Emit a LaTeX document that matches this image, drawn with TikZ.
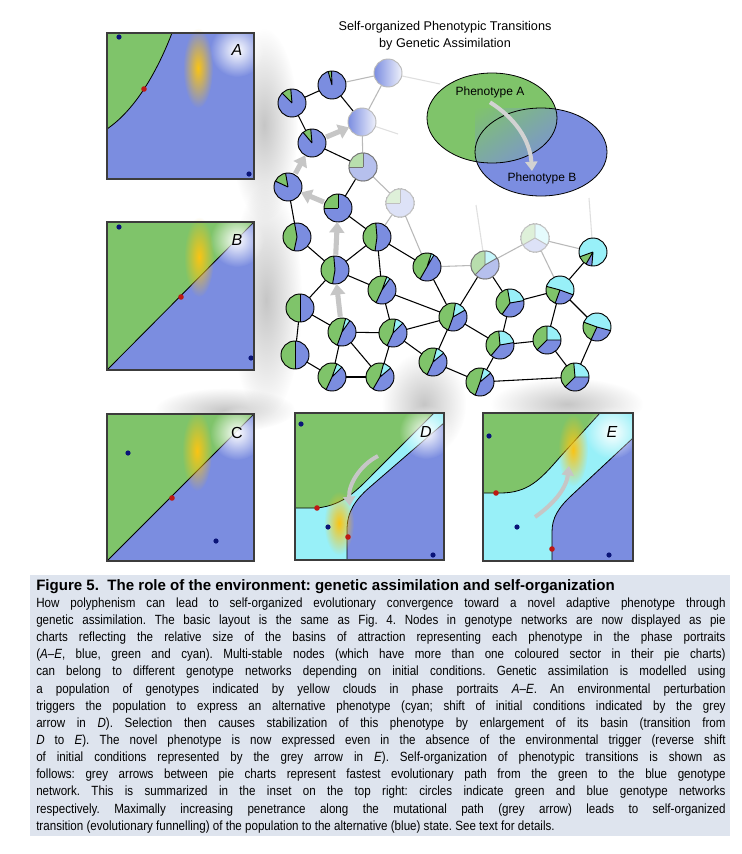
\documentclass[tikz,border=0pt]{standalone}
\usepackage{fontspec}
\setmainfont{Liberation Sans}
\newfontfamily\capfont[FakeStretch=0.87]{Liberation Sans}
\usetikzlibrary{arrows.meta,fadings,shadings,positioning}

\definecolor{greenB}{RGB}{127,196,106}
\definecolor{blueB}{RGB}{123,141,224}
\definecolor{cyanB}{RGB}{152,240,248}
\definecolor{dotblue}{RGB}{10,20,120}
\definecolor{dotred}{RGB}{190,25,20}
\definecolor{cloud}{RGB}{250,196,20}
\definecolor{capbg}{RGB}{222,228,238}
\definecolor{framegrey}{RGB}{60,60,60}

\tikzfading[name=softfade, inner color=transparent!0, outer color=transparent!100]

\tikzset{
  edge/.style={black, line width=0.8pt},
  greyedge/.style={gray!55, line width=0.8pt},
  paleedge/.style={gray!25, line width=0.8pt},
  pieline/.style={black, line width=0.7pt},
  pathArrow/.style={draw=gray!45, line width=3.8pt,
    -{Triangle[width=11pt,length=8pt]}, shorten <=11.5pt, shorten >=10.5pt},
  curveArrow/.style={draw=gray!45, line width=3pt, -{Triangle[width=9pt,length=7pt]}},
  frameline/.style={draw=framegrey, line width=1pt},
  basin/.style={black, line width=0.6pt},
  panellabel/.style={font=\fontsize{12}{12}\selectfont\itshape, inner sep=0pt},
  glow/.style={white, path fading=softfade},
  haze/.style={cloud, path fading=softfade},
  shadowblob/.style={gray!45, path fading=softfade},
}

% pie chart: name, cyan start, green start, blue start, white veil
\newcommand{\pie}[5]{%
  \begin{scope}[shift={(#1)}, x=0.75pt, y=0.75pt]
    \fill[cyanB] (0,0) -- (#2:14) arc[start angle=#2, end angle=#3, radius=14] -- cycle;
    \fill[greenB] (0,0) -- (#3:14) arc[start angle=#3, end angle=#4, radius=14] -- cycle;
    \fill[blueB] (0,0) -- (#4:14) arc[start angle=#4, end angle=#2+360, radius=14] -- cycle;
    \draw[pieline] (0,0) -- (#2:14) (0,0) -- (#3:14) (0,0) -- (#4:14);
    \draw[pieline] (0,0) circle[radius=14];
    \fill[white, opacity=#5] (0,0) circle[radius=14.6];
  \end{scope}}

\begin{document}
\begin{tikzpicture}[x=0.75pt, y=-0.75pt]
\fill[white] (0,0) rectangle (742,854);
\useasboundingbox (0,0) rectangle (742,854);

%-- soft shadows between portraits and network --
\fill[shadowblob] (264,125) ellipse [x radius=34, y radius=96];
\fill[shadowblob] (266,300) ellipse [x radius=36, y radius=116];
\fill[shadowblob] (225,410) ellipse [x radius=70, y radius=22];
\fill[shadowblob] (424,404) ellipse [x radius=42, y radius=52];
\fill[shadowblob] (567,404) ellipse [x radius=76, y radius=26];

%-- phase portrait A --
\fill[blueB] (107,33) rectangle (254,179);
\fill[greenB] (107,33) -- (172,33) .. controls (157,72) and (135,110) .. (107,129) -- cycle;
\draw[basin] (172,33) .. controls (157,72) and (135,110) .. (107,129);
\fill[haze] (198,68) ellipse [x radius=15, y radius=40];
\fill[dotred] (144,89) circle[radius=2.8];
\fill[dotblue] (119,37) circle[radius=2.6];
\fill[dotblue] (249,174) circle[radius=2.6];
\fill[glow] (237,50) circle[radius=27];
\node[panellabel] (labA) at (237,50) {A};
\draw[frameline] (107,33) rectangle (254,179);

%-- phase portrait B --
\fill[blueB] (107,222) rectangle (254,370);
\fill[greenB] (107,222) -- (254,222) -- (107,370) -- cycle;
\draw[basin] (254,222) -- (107,370);
\fill[haze] (199,257) ellipse [x radius=15, y radius=40];
\fill[dotred] (181,297) circle[radius=2.8];
\fill[dotblue] (119,227) circle[radius=2.6];
\fill[dotblue] (251,358) circle[radius=2.6];
\fill[glow] (237,240) circle[radius=27];
\node[panellabel] (labB) at (237,240) {B};
\draw[frameline] (107,222) rectangle (254,370);

%-- phase portrait C --
\fill[blueB] (107,414) rectangle (254,561);
\fill[greenB] (107,414) -- (254,414) -- (107,561) -- cycle;
\draw[basin] (254,414) -- (107,561);
\fill[haze] (197,451) ellipse [x radius=15, y radius=40];
\fill[dotred] (172,498) circle[radius=2.8];
\fill[dotblue] (128,453) circle[radius=2.6];
\fill[dotblue] (216,541) circle[radius=2.6];
\fill[glow] (237,433) circle[radius=27];
\node[panellabel, font=\fontsize{12}{12}\selectfont] (labC) at (237,433) {C};
\draw[frameline] (107,414) rectangle (254,561);

%-- phase portrait D --
\fill[cyanB] (295,413) rectangle (444,560);
\fill[greenB] (295,413) -- (434,413) -- (377,470)
  .. controls (358,489) and (345,505) .. (317,508) -- (295,508) -- cycle;
\draw[basin] (434,413) -- (377,470) .. controls (358,489) and (345,505) .. (317,508) -- (295,508);
\fill[blueB] (347,560) -- (347,530) .. controls (347,512) and (355,500) .. (370,487)
  -- (444,423) -- (444,560) -- cycle;
\draw[basin] (347,560) -- (347,530) .. controls (347,512) and (355,500) .. (370,487) -- (444,423);
\fill[haze] (339,523) ellipse [x radius=15, y radius=32];
\draw[curveArrow] (378,456) .. controls (360,465) and (348,485) .. (350,506);
\fill[dotred] (317,508) circle[radius=2.8];
\fill[dotred] (348,537) circle[radius=2.8];
\fill[dotblue] (301,424) circle[radius=2.6];
\fill[dotblue] (328,527) circle[radius=2.6];
\fill[dotblue] (433,555) circle[radius=2.6];
\fill[glow] (426,432) circle[radius=27];
\node[panellabel] (labD) at (426,432) {D};
\draw[frameline] (295,413) rectangle (444,560);

%-- phase portrait E --
\fill[cyanB] (483,413) rectangle (633,561);
\fill[greenB] (483,413) -- (600,413) -- (560,457)
  .. controls (540,480) and (528,493) .. (500,493) -- (483,493) -- cycle;
\draw[basin] (600,413) -- (560,457) .. controls (540,480) and (528,493) .. (500,493) -- (483,493);
\fill[blueB] (552,561) -- (552,532) .. controls (552,518) and (558,508) .. (572,495)
  -- (633,438) -- (633,561) -- cycle;
\draw[basin] (552,561) -- (552,532) .. controls (552,518) and (558,508) .. (572,495) -- (633,438);
\fill[haze] (573,450) ellipse [x radius=15, y radius=36];
\draw[curveArrow] (535,517) .. controls (552,505) and (566,490) .. (569,466);
\fill[dotred] (496,493) circle[radius=2.8];
\fill[dotred] (552,549) circle[radius=2.8];
\fill[dotblue] (489,436) circle[radius=2.6];
\fill[dotblue] (517,527) circle[radius=2.6];
\fill[dotblue] (609,555) circle[radius=2.6];
\fill[glow] (612,432) circle[radius=27];
\node[panellabel] (labE) at (612,432) {E};
\draw[frameline] (483,413) rectangle (633,561);

%-- genotype network --
\foreach \n/\x/\y in {v1/292/103, v2/332/85, v3/388/73, v4/312/143, v5/362/122,
    v6/363/167, v7/288/187, v8/338/208, v9/400/203, v10/297/237, v11/377/237,
    v12/335/270, v13/427/267, v14/485/265, v15/535/238, v16/593/252, v17/382/290,
    v18/300/308, v19/453/317, v20/510/303, v21/560/290, v22/342/332, v23/393/333,
    v24/597/327, v25/295/355, v26/433/362, v27/500/345, v28/547/340, v29/332/377,
    v30/380/377, v31/480/382, v32/575/377}
  \coordinate (\n) at (\x,\y);
\coordinate (v3out) at (440,84);
\coordinate (v5out) at (398,134);
\coordinate (v14out) at (476,205);
\coordinate (v16out) at (589,198);

\draw[paleedge] (v3) -- (v3out);
\draw[paleedge] (v5) -- (v5out);
\draw[paleedge] (v14) -- (v14out);
\draw[paleedge] (v16) -- (v16out);
\foreach \a/\b in {v2/v3, v3/v5, v5/v6, v6/v9, v9/v11, v9/v13, v13/v14, v14/v15, v15/v16, v15/v21}
  \draw[greyedge] (\a) -- (\b);
\foreach \a/\b in {v1/v2, v1/v4, v2/v5, v4/v6, v6/v8, v7/v10, v8/v11, v10/v12, v11/v12,
    v12/v18, v12/v17, v11/v17, v11/v13, v17/v19, v17/v23, v13/v19, v14/v19, v14/v20,
    v16/v21, v18/v22, v18/v25, v22/v23, v23/v19, v22/v29, v22/v30, v25/v29, v29/v30,
    v23/v30, v23/v26, v19/v26, v19/v27, v26/v31, v27/v31, v20/v27, v20/v21, v21/v28,
    v21/v24, v27/v28, v28/v32, v24/v32, v31/v32}
  \draw[edge] (\a) -- (\b);

\foreach \n in {v3, v5} {
  \shade[left color=blueB, right color=blueB!12] (\n) circle[radius=14];
  \draw[gray!55, line width=0.7pt] (\n) circle[radius=14];
}
\foreach \n/\c/\g/\b/\w in {v1/95/95/135/0, v2/92/92/106/0, v4/95/95/130/0,
    v6/90/90/180/0.45, v7/100/100/155/0, v8/90/90/180/0, v9/90/90/180/0.75,
    v10/100/100/258/0, v11/95/95/262/0, v12/95/95/260/0, v13/60/72/240/0,
    v14/30/90/225/0.45, v15/-30/90/210/0.75, v16/-95/200/240/0, v17/55/70/245/0,
    v18/90/90/270/0, v19/30/80/250/0, v20/10/100/235/0, v21/-20/165/250/0,
    v22/55/75/250/0, v23/45/80/245/0, v24/-15/160/245/0, v25/90/90/270/0,
    v26/40/75/245/0, v27/10/95/230/0, v28/0/90/225/0, v29/45/70/245/0,
    v30/40/75/240/0, v31/40/75/250/0, v32/0/95/225/0}
  \pie{\n}{\c}{\g}{\b}{\w};

%-- fastest path green -> blue --
\draw[pathArrow] (v22) -- (v12);
\draw[pathArrow] (v12) -- (v8);
\draw[pathArrow] (v8) -- (v7);
\draw[pathArrow] (v7) -- (v4);
\draw[pathArrow] (v4) -- (v5);

%-- inset: phenotype networks --
\coordinate (phA) at (492,118);
\coordinate (phB) at (541,152);
\fill[greenB] (phA) ellipse [x radius=65, y radius=45];
\fill[blueB] (phB) ellipse [x radius=66, y radius=44];
\begin{scope}
  \clip (phA) ellipse [x radius=65, y radius=45];
  \shade[upper left=greenB, upper right=greenB!50!blueB, lower left=greenB!50!blueB,
    lower right=blueB] (475,108) rectangle (557,163);
\end{scope}
\draw[basin] (phA) ellipse [x radius=65, y radius=45];
\draw[basin] (phB) ellipse [x radius=66, y radius=44];
\node[font=\fontsize{9}{11}\selectfont] (txtA) at (490,92) {Phenotype A};
\node[font=\fontsize{9}{11}\selectfont] (txtB) at (542,178) {Phenotype B};
\draw[curveArrow, draw=gray!35] (txtA.south) .. controls (515,118) and (530,140) .. (532,171);

%-- title --
\node[align=center, font=\fontsize{9.5}{12.75}\selectfont] (title) at (445,36)
  {Self-organized Phenotypic Transitions\\by Genetic Assimilation};

%-- caption --
\fill[capbg] (30,575) rectangle (730,836);
\node[anchor=north west, text width=517pt, align=justify, inner sep=0pt,
  font=\capfont\fontsize{10}{12.86}\selectfont\frenchspacing] (caption) at (36,579)
{{\normalfont\fontsize{11.3}{12.86}\selectfont\bfseries Figure 5.\ \ The role of the environment: genetic assimilation and self-organization}\\
How polyphenism can lead to self-organized evolutionary convergence toward a novel adaptive phenotype through\linebreak
genetic assimilation. The basic layout is the same as Fig. 4. Nodes in genotype networks are now displayed as pie\linebreak
charts reflecting the relative size of the basins of attraction representing each phenotype in the phase portraits\linebreak
(\textit{A}–\textit{E}, blue, green and cyan). Multi-stable nodes (which have more than one coloured sector in their pie charts)\linebreak
can belong to different genotype networks depending on initial conditions. Genetic assimilation is modelled using\linebreak
a population of genotypes indicated by yellow clouds in phase portraits \textit{A}–\textit{E}. An environmental perturbation\linebreak
triggers the population to express an alternative phenotype (cyan; shift of initial conditions indicated by the grey\linebreak
arrow in \textit{D}). Selection then causes stabilization of this phenotype by enlargement of its basin (transition from\linebreak
\textit{D} to \textit{E}). The novel phenotype is now expressed even in the absence of the environmental trigger (reverse shift\linebreak
of initial conditions represented by the grey arrow in \textit{E}). Self-organization of phenotypic transitions is shown as\linebreak
follows: grey arrows between pie charts represent fastest evolutionary path from the green to the blue genotype\linebreak
network. This is summarized in the inset on the top right: circles indicate green and blue genotype networks\linebreak
respectively. Maximally increasing penetrance along the mutational path (grey arrow) leads to self-organized\linebreak
transition (evolutionary funnelling) of the population to the alternative (blue) state. See text for details.};

\end{tikzpicture}
\end{document}
